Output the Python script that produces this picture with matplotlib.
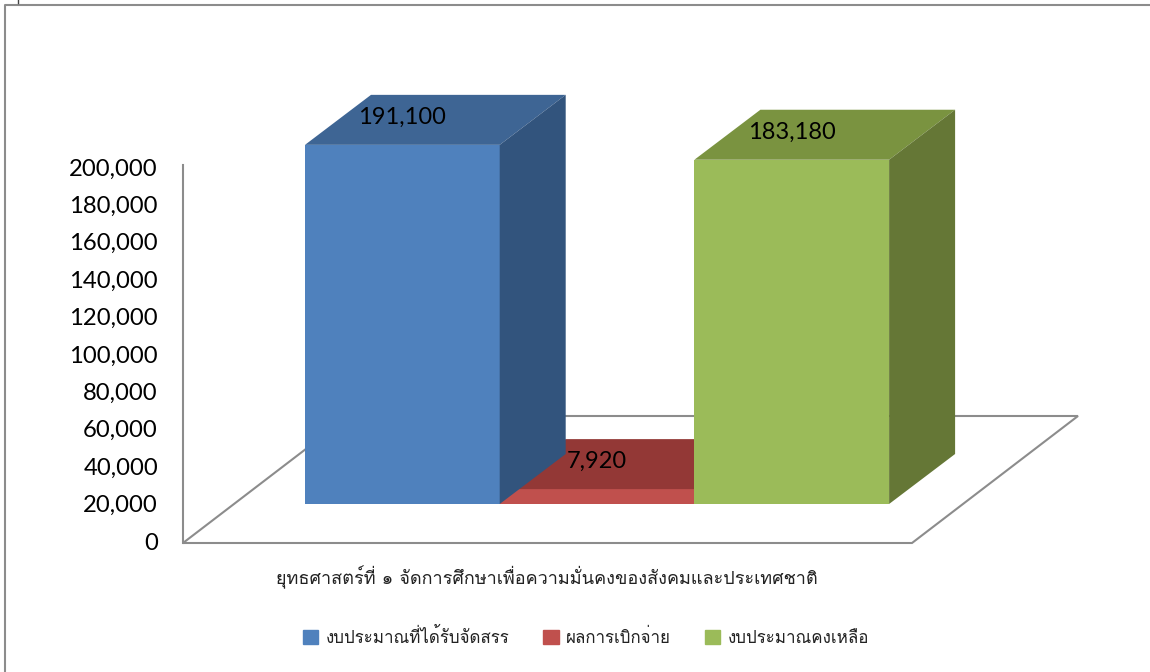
import matplotlib
matplotlib.use('Agg')
import matplotlib.pyplot as plt
from matplotlib.lines import Line2D
from matplotlib.patches import Patch

# Data
series_names = ['งบประมาณที่ได้รับจัดสรร', 'ผลการเบิกจ่าย', 'งบประมาณคงเหลือ']
series_values = [191100, 7920, 183180]
data_labels = ['191,100', '7,920', '183,180']
category = 'ยุทธศาสตร์ที่ ๑ จัดการศึกษาเพื่อความมั่นคงของสังคมและประเทศชาติ'
y_ticks = [0, 20000, 40000, 60000, 80000, 100000, 120000, 140000, 160000, 180000, 200000]

front_colors = ['#4F81BD', '#C0504D', '#9BBB59']
top_colors = ['#3E6594', '#933836', '#7A9340']
side_colors = ['#32547D', '#7A302E', '#657736']

W, H = 1150, 672
thai_font = ['Loma', 'Noto Sans Thai', 'DejaVu Sans']
num_font = 'Lato'
grey = '#8C8C8C'

fig = plt.figure(figsize=(W / 100, H / 100), dpi=100)
ax = fig.add_axes([0, 0, 1, 1])

# one unit of x is one bar slot, y is in baht
slot_px = 194.7
x0_px = 305
y0_px = 541
y_px = 374 / 200000
ax.set_xlim(-x0_px / slot_px, (W - x0_px) / slot_px)
ax.set_ylim((y0_px - H) / y_px, y0_px / y_px)

# depth of the fake 3D, in axis units
dx = 66 / slot_px
dy = 50 / y_px
floor_y = 37 / y_px   # front of the bars sits on the floor here
bar_scale = 1.005

# floor
base = 2 / y_px
fx0, fx1 = (183 - x0_px) / slot_px, (912 - x0_px) / slot_px
sx, sy = 166 / slot_px, 127 / y_px
ax.plot([fx0 + sx, fx0, fx1, fx1 + sx, fx0 + sx],
        [-base + sy, -base, -base, -base + sy, -base + sy],
        color=grey, lw=1.5, solid_joinstyle='miter', zorder=1)

# y axis is the left spine, moved over to the floor corner
for s in ['top', 'right', 'bottom']:
    ax.spines[s].set_visible(False)
ax.spines['left'].set_position(('data', fx0))
ax.spines['left'].set_bounds(-base, 200000 + base)
ax.spines['left'].set_color(grey)
ax.spines['left'].set_linewidth(1.5)
ax.set_xticks([])
ax.set_yticks(y_ticks)
ax.set_yticklabels([f'{v:,}' for v in y_ticks], fontsize=17.2, family=num_font)
ax.tick_params(axis='y', length=0, pad=18)

# bars, red first so the others cover it
for i in [1, 0, 2]:
    h = series_values[i] * bar_scale
    top = floor_y + h
    ax.fill([i, i + 1, i + 1, i], [floor_y, floor_y, top, top],
            color=front_colors[i], lw=0, zorder=3)
    ax.fill([i, i + dx, i + 1 + dx, i + 1], [top, top + dy, top + dy, top],
            color=top_colors[i], lw=0, zorder=3)
    ax.fill([i + 1, i + 1 + dx, i + 1 + dx, i + 1],
            [floor_y, floor_y + dy, top + dy, top],
            color=side_colors[i], lw=0, zorder=3)
    ax.text(i + 0.5, top + dy * 0.55, data_labels[i],
            ha='center', va='center', fontsize=17, family=num_font, zorder=5)

fig.text(547 / W, 1 - 577 / H, category, ha='center', va='center',
         fontsize=13, family=thai_font, color='#222222')

handles = [Patch(color=c, label=n) for c, n in zip(front_colors, series_names)]
ax.legend(handles=handles, loc='center', bbox_to_anchor=(586 / W, 1 - 637 / H),
          ncol=3, frameon=False, prop={'family': thai_font, 'size': 12.2},
          handlelength=0.9, handleheight=0.9, handletextpad=0.45, columnspacing=2.0,
          labelcolor='#222222')

# outer frame of the pasted chart
fig.add_artist(Line2D([5 / W, 5 / W, 1], [0, 1 - 4.5 / H, 1 - 4.5 / H], color=grey, lw=1.5))
fig.add_artist(Line2D([18 / W, 18 / W], [1 - 3 / H, 1], color='#444444', lw=1))

fig.savefig('out.png', dpi=100)
